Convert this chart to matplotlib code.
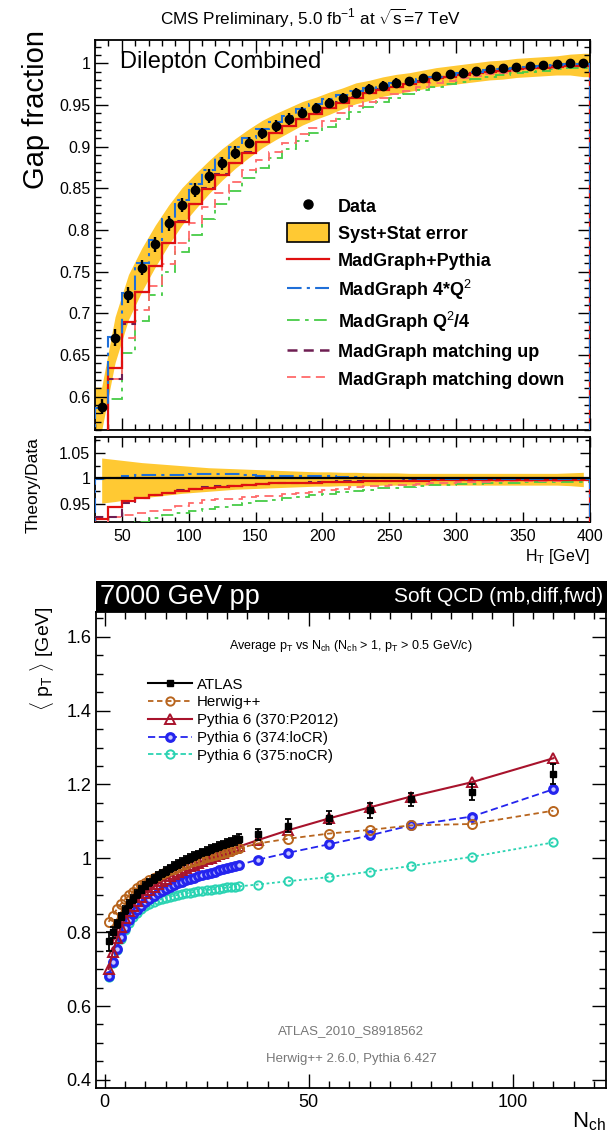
import numpy as np
import matplotlib
matplotlib.use("Agg")
import matplotlib.pyplot as plt
from matplotlib.lines import Line2D
from matplotlib.patches import Patch
from matplotlib.ticker import MultipleLocator, FuncFormatter

plt.rcParams['font.family'] = ['Liberation Sans', 'DejaVu Sans']
plt.rcParams['mathtext.fontset'] = 'custom'
plt.rcParams['mathtext.rm'] = 'Liberation Sans'
plt.rcParams['mathtext.it'] = 'Liberation Sans'
plt.rcParams['mathtext.bf'] = 'Liberation Sans:bold'
plt.rcParams['mathtext.sf'] = 'Liberation Sans'

# ---------------- gap fraction vs H_T ----------------
ht_edges = np.arange(30, 401, 10)
gap_data = [0.588, 0.671, 0.722, 0.755, 0.783, 0.808, 0.830, 0.848, 0.865, 0.880,
            0.893, 0.905, 0.916, 0.925, 0.933, 0.941, 0.947, 0.953, 0.959, 0.965,
            0.969, 0.973, 0.976, 0.979, 0.982, 0.985, 0.987, 0.989, 0.991, 0.993,
            0.994, 0.996, 0.997, 0.998, 0.999, 1.000, 1.000]
gap_err = [0.009, 0.010, 0.010, 0.009, 0.009, 0.009, 0.008, 0.008, 0.008, 0.008,
           0.008, 0.007, 0.007, 0.007, 0.007, 0.007, 0.006, 0.006, 0.006, 0.006,
           0.006, 0.006, 0.006, 0.005, 0.005, 0.005, 0.005, 0.005, 0.005, 0.005,
           0.005, 0.005, 0.005, 0.005, 0.005, 0.005, 0.005]
# relative syst+stat uncertainty (upper / lower)
band_up = [0.040, 0.037, 0.034, 0.031, 0.029, 0.027, 0.025, 0.023, 0.021, 0.020,
           0.019, 0.018, 0.017, 0.016, 0.015, 0.014, 0.013, 0.013, 0.012, 0.012,
           0.011, 0.011, 0.011, 0.010, 0.010, 0.010, 0.010, 0.010, 0.010, 0.010,
           0.010, 0.010, 0.010, 0.010, 0.010, 0.011, 0.012]
band_dn = [0.048, 0.045, 0.041, 0.038, 0.035, 0.032, 0.029, 0.027, 0.025, 0.023,
           0.021, 0.020, 0.019, 0.018, 0.017, 0.016, 0.015, 0.015, 0.014, 0.014,
           0.014, 0.013, 0.013, 0.013, 0.013, 0.013, 0.013, 0.013, 0.013, 0.013,
           0.013, 0.013, 0.013, 0.013, 0.013, 0.014, 0.016]
mg_pythia = [0.542, 0.634, 0.690, 0.726, 0.757, 0.785, 0.810, 0.831, 0.849, 0.866,
             0.880, 0.893, 0.906, 0.916, 0.925, 0.933, 0.939, 0.946, 0.953, 0.959,
             0.964, 0.968, 0.972, 0.975, 0.978, 0.982, 0.984, 0.986, 0.988, 0.990,
             0.991, 0.993, 0.994, 0.995, 0.996, 0.997, 0.997]
mg_4q2 = [0.587, 0.672, 0.725, 0.760, 0.788, 0.813, 0.836, 0.855, 0.872, 0.887,
          0.900, 0.911, 0.921, 0.930, 0.937, 0.945, 0.951, 0.957, 0.962, 0.967,
          0.970, 0.973, 0.976, 0.978, 0.981, 0.984, 0.986, 0.988, 0.990, 0.992,
          0.993, 0.995, 0.996, 0.997, 0.998, 0.999, 0.999]
mg_q2_4 = [0.512, 0.597, 0.653, 0.691, 0.722, 0.750, 0.774, 0.794, 0.813, 0.831,
           0.847, 0.862, 0.875, 0.886, 0.897, 0.907, 0.916, 0.924, 0.933, 0.942,
           0.948, 0.954, 0.958, 0.963, 0.968, 0.972, 0.975, 0.978, 0.981, 0.984,
           0.986, 0.988, 0.990, 0.991, 0.993, 0.994, 0.994]
mg_match_up = [0.544, 0.621, 0.687, 0.726, 0.757, 0.785, 0.811, 0.831, 0.850, 0.867,
               0.880, 0.894, 0.906, 0.916, 0.925, 0.933, 0.940, 0.947, 0.954, 0.960,
               0.965, 0.969, 0.972, 0.976, 0.979, 0.982, 0.984, 0.987, 0.989, 0.991,
               0.992, 0.994, 0.995, 0.996, 0.997, 0.998, 0.998]
mg_match_down = [0.529, 0.621, 0.671, 0.704, 0.733, 0.759, 0.785, 0.808, 0.828, 0.844,
                 0.858, 0.872, 0.884, 0.894, 0.904, 0.915, 0.922, 0.931, 0.940, 0.949,
                 0.954, 0.959, 0.963, 0.967, 0.972, 0.976, 0.979, 0.982, 0.985, 0.987,
                 0.989, 0.991, 0.993, 0.994, 0.995, 0.997, 0.997]

# ---------------- <pT> vs N_ch ----------------
nch = [1, 2, 3, 4, 5, 6, 7, 8, 9, 10, 11, 12, 13, 14, 15, 16, 17, 18, 19, 20,
       21, 22, 23, 24, 25, 26, 27, 28, 29, 30, 31, 32, 33,
       37.5, 45, 55, 65, 75, 90, 110]
atlas_pt = [0.775, 0.800, 0.822, 0.842, 0.860, 0.876, 0.890, 0.903, 0.915, 0.926,
            0.935, 0.944, 0.952, 0.959, 0.966, 0.973, 0.979, 0.985, 0.991, 0.996,
            1.001, 1.006, 1.011, 1.016, 1.020, 1.025, 1.029, 1.033, 1.037, 1.041,
            1.045, 1.049, 1.053,
            1.065, 1.088, 1.110, 1.130, 1.160, 1.180, 1.228]
atlas_err = [0.025, 0.015, 0.012, 0.010, 0.010, 0.010, 0.010, 0.010, 0.010, 0.010,
             0.010, 0.010, 0.010, 0.010, 0.010, 0.010, 0.010, 0.010, 0.010, 0.010,
             0.010, 0.010, 0.010, 0.010, 0.010, 0.010, 0.010, 0.010, 0.010, 0.010,
             0.011, 0.012, 0.012,
             0.015, 0.018, 0.018, 0.020, 0.018, 0.022, 0.028]
herwig_pt = [0.828, 0.845, 0.862, 0.876, 0.889, 0.900, 0.910, 0.919, 0.927, 0.934,
             0.941, 0.947, 0.953, 0.958, 0.963, 0.968, 0.972, 0.977, 0.981, 0.985,
             0.989, 0.992, 0.996, 0.999, 1.003, 1.006, 1.009, 1.012, 1.015, 1.018,
             1.021, 1.024, 1.027,
             1.040, 1.053, 1.067, 1.077, 1.089, 1.093, 1.129]
p370_pt = [0.700, 0.745, 0.783, 0.814, 0.838, 0.857, 0.872, 0.885, 0.896, 0.906,
           0.915, 0.923, 0.931, 0.938, 0.945, 0.951, 0.957, 0.963, 0.968, 0.973,
           0.978, 0.983, 0.988, 0.993, 0.997, 1.002, 1.006, 1.011, 1.015, 1.019,
           1.024, 1.028, 1.032,
           1.049, 1.076, 1.108, 1.138, 1.167, 1.206, 1.271]
p374_pt = [0.680, 0.718, 0.755, 0.788, 0.812, 0.832, 0.848, 0.861, 0.872, 0.882,
           0.890, 0.898, 0.905, 0.911, 0.917, 0.922, 0.927, 0.932, 0.936, 0.940,
           0.944, 0.948, 0.951, 0.954, 0.958, 0.961, 0.964, 0.967, 0.970, 0.973,
           0.976, 0.979, 0.982,
           0.996, 1.015, 1.038, 1.062, 1.089, 1.113, 1.187]
p375_pt = [0.678, 0.716, 0.752, 0.782, 0.806, 0.825, 0.840, 0.852, 0.862, 0.870,
           0.876, 0.882, 0.886, 0.890, 0.893, 0.896, 0.899, 0.901, 0.903, 0.905,
           0.907, 0.909, 0.911, 0.912, 0.914, 0.915, 0.917, 0.918, 0.919, 0.921,
           0.922, 0.923, 0.924,
           0.929, 0.938, 0.949, 0.964, 0.979, 1.004, 1.043]

# ---------------------------------------------------------------
W, H = 607, 1134
fig = plt.figure(figsize=(W / 100, H / 100), dpi=100)


def box(x0, y0, x1, y1):
    """Axes rectangle given in pixel coordinates measured from the top-left."""
    return [x0 / W, 1 - y1 / H, (x1 - x0) / W, (y1 - y0) / H]


def root_ticks(ax, major_len=9, minor_len=4.5, lw=1.0):
    ax.tick_params(which='both', direction='in', top=True, right=True, width=lw)
    ax.tick_params(which='major', length=major_len)
    ax.tick_params(which='minor', length=minor_len)
    for s in ax.spines.values():
        s.set_linewidth(1.3)


gfmt = FuncFormatter(lambda v, p: f"{v:g}")

C_BAND = '#ffc933'
C_RED = '#e01010'
C_BLUE = '#1f6fd8'
C_GREEN = '#46cc46'
C_UP = '#6e1e52'
C_DOWN = '#ff6a6a'

centers = 0.5 * (ht_edges[:-1] + ht_edges[1:])
gd = np.array(gap_data)
lo = gd * (1 - np.array(band_dn))
hi = gd * (1 + np.array(band_up))
xb = np.r_[ht_edges[0], centers, ht_edges[-1]]

# ---- main gap-fraction panel ----
ax1 = fig.add_axes(box(95, 40, 590, 430))
ax1.fill_between(xb, np.r_[lo[0], lo, lo[-1]], np.r_[hi[0], hi, hi[-1]],
                 color=C_BAND, lw=0, zorder=1)
series = [
    (mg_q2_4, C_GREEN, (0, (7, 3, 2, 3)), 1.3),
    (mg_match_down, C_DOWN, (0, (5, 3)), 1.3),
    (mg_match_up, C_UP, (0, (4, 2.5)), 1.5),
    (mg_pythia, C_RED, '-', 1.6),
    (mg_4q2, C_BLUE, (0, (7, 2.5, 1.5, 2.5)), 1.5),
]
for vals, col, ls, lw in series:
    ax1.stairs(vals, ht_edges, color=col, linestyle=ls, lw=lw, zorder=3)
ax1.errorbar(centers, gap_data, yerr=gap_err, fmt='o', color='k', ms=6,
             elinewidth=1.7, capsize=0, zorder=5)
ax1.set_xlim(30, 400)
ax1.set_ylim(0.56, 1.028)
ax1.xaxis.set_major_locator(MultipleLocator(50))
ax1.xaxis.set_minor_locator(MultipleLocator(10))
ax1.yaxis.set_major_locator(MultipleLocator(0.05))
ax1.yaxis.set_minor_locator(MultipleLocator(0.01))
ax1.yaxis.set_major_formatter(gfmt)
ax1.tick_params(labelbottom=False, labelsize=11.5)
root_ticks(ax1)
ax1.text(0.05, 0.944, 'Dilepton Combined', transform=ax1.transAxes,
         fontsize=17, va='center', ha='left')

handles = [
    Line2D([], [], ls='none', marker='o', color='k', ms=6.5),
    Patch(facecolor=C_BAND, edgecolor='k', lw=1.2),
    Line2D([], [], color=C_RED, lw=1.6),
    Line2D([], [], color=C_BLUE, lw=1.5, ls=(0, (7, 2.5, 1.5, 2.5))),
    Line2D([], [], color=C_GREEN, lw=1.3, ls=(0, (7, 3, 2, 3))),
    Line2D([], [], color=C_UP, lw=1.8, ls=(0, (4, 2.5))),
    Line2D([], [], color=C_DOWN, lw=1.3, ls=(0, (5, 3))),
]
labels = ['Data', 'Syst+Stat error', 'MadGraph+Pythia', 'MadGraph 4*Q$^2$',
          'MadGraph Q$^2$/4', 'MadGraph matching up', 'MadGraph matching down']
ax1.legend(handles, labels, loc='upper left', bbox_to_anchor=(0.388, 0.6),
           frameon=False, borderpad=0, borderaxespad=0, handlelength=2.35,
           handleheight=1.25, handletextpad=0.45, labelspacing=0.43,
           prop={'size': 13, 'weight': 'bold'})

fig.text(310 / W, 1 - 18 / H, 'CMS Preliminary, 5.0 fb$^{-1}$ at $\\sqrt{s}$=7 TeV',
         fontsize=12.3, ha='center', va='center')
fig.text(36 / W, 1 - 30 / H, 'Gap fraction', rotation=90, fontsize=21,
         ha='center', va='top')

# ---- ratio panel ----
ax2 = fig.add_axes(box(95, 437, 590, 522))
ax2.fill_between(centers, 1 - np.array(band_dn), 1 + np.array(band_up),
                 color=C_BAND, lw=0, zorder=1)
for vals, col, ls, lw in series:
    ax2.stairs(np.array(vals) / gd, ht_edges, color=col, linestyle=ls, lw=lw, zorder=3)
ax2.axhline(1.0, color='k', lw=1.6, zorder=4)
ax2.set_xlim(30, 400)
ax2.set_ylim(0.915, 1.081)
ax2.xaxis.set_major_locator(MultipleLocator(50))
ax2.xaxis.set_minor_locator(MultipleLocator(10))
ax2.yaxis.set_major_locator(MultipleLocator(0.05))
ax2.yaxis.set_minor_locator(MultipleLocator(0.025))
ax2.yaxis.set_major_formatter(gfmt)
ax2.tick_params(labelsize=11.5)
ax2.tick_params(axis='x', pad=5)
root_ticks(ax2, major_len=7, minor_len=3.5)
ax2.set_xlabel('H$_T$ [GeV]', fontsize=11.5, ha='right', x=1.0, labelpad=2)
fig.text(33 / W, 1 - 437 / H, 'Theory/Data', rotation=90, fontsize=12.5,
         ha='center', va='top')

# ---- <pT> vs Nch panel ----
axb = fig.add_axes(box(96, 581, 607, 612))
axb.set_facecolor('black')
axb.set_xticks([])
axb.set_yticks([])
for s in axb.spines.values():
    s.set_visible(False)
axb.text(0.008, 0.5, '7000 GeV pp', color='white', fontsize=19.5,
         ha='left', va='center', transform=axb.transAxes)
axb.text(0.992, 0.5, 'Soft QCD (mb,diff,fwd)', color='white', fontsize=15,
         ha='right', va='center', transform=axb.transAxes)

ax3 = fig.add_axes(box(96, 612, 606, 1088))
C_HW = '#b8651e'
C_370 = '#a8132c'
C_374 = '#2424ee'
C_375 = '#2ad3b2'
ax3.plot(nch, p375_pt, color=C_375, ls=(0, (1.5, 1.5)), lw=1.3, marker='o', ms=6,
         mfc='none', mec=C_375, mew=1.4, zorder=2)
ax3.plot(nch, p374_pt, color=C_374, ls=(0, (4, 2)), lw=1.3, marker='o', ms=5.5,
         mfc='#c8c8ff', mec=C_374, mew=2.3, zorder=3)
ax3.plot(nch, p370_pt, color=C_370, ls='-', lw=1.5, marker='^', ms=6.5,
         mfc='none', mec=C_370, mew=1.4, zorder=4)
ax3.plot(nch, herwig_pt, color=C_HW, ls=(0, (3, 2)), lw=1.3, marker='o', ms=6.5,
         mfc='none', mec=C_HW, mew=1.4, zorder=5)
ax3.errorbar(nch, atlas_pt, yerr=atlas_err, fmt='s', color='k', ms=5,
             elinewidth=1.3, capsize=2.5, capthick=1.3, zorder=6)
ax3.set_xlim(-2.1, 122.9)
ax3.set_ylim(0.378, 1.667)
ax3.xaxis.set_major_locator(MultipleLocator(50))
ax3.xaxis.set_minor_locator(MultipleLocator(5))
ax3.yaxis.set_major_locator(MultipleLocator(0.2))
ax3.yaxis.set_minor_locator(MultipleLocator(0.05))
ax3.yaxis.set_major_formatter(gfmt)
ax3.tick_params(labelsize=13)
ax3.tick_params(axis='x', pad=4)
root_ticks(ax3, major_len=10, minor_len=5)

leg_handles = [
    Line2D([], [], color='k', lw=1.5, marker='s', ms=5),
    Line2D([], [], color=C_HW, lw=1.3, ls=(0, (3, 2)), marker='o', ms=6, mfc='none', mew=1.4),
    Line2D([], [], color=C_370, lw=1.5, marker='^', ms=6.5, mfc='none', mew=1.4),
    Line2D([], [], color=C_374, lw=1.3, ls=(0, (4, 2)), marker='o', ms=5.5,
           mfc='#c8c8ff', mew=2.3),
    Line2D([], [], color=C_375, lw=1.3, ls=(0, (3, 1.5)), marker='o', ms=6, mfc='none', mew=1.4),
]
leg_labels = ['ATLAS', 'Herwig++', 'Pythia 6 (370:P2012)', 'Pythia 6 (374:loCR)',
              'Pythia 6 (375:noCR)']
ax3.legend(leg_handles, leg_labels, loc='upper left', bbox_to_anchor=(0.102, 0.862),
           frameon=False, borderpad=0, borderaxespad=0, handlelength=2.9,
           handletextpad=0.35, labelspacing=0.25, prop={'size': 10.8})

ax3.text(0.5, 0.928, 'Average p$_T$ vs N$_{ch}$ (N$_{ch}$ > 1, p$_T$ > 0.5 GeV/c)',
         transform=ax3.transAxes, fontsize=9, ha='center', va='center')
ax3.text(0.5, 0.12, 'ATLAS_2010_S8918562', transform=ax3.transAxes,
         fontsize=9.5, color='#777777', ha='center', va='center')
ax3.text(0.5, 0.061, 'Herwig++ 2.6.0, Pythia 6.427', transform=ax3.transAxes,
         fontsize=9.5, color='#777777', ha='center', va='center')
fig.text(42 / W, 1 - 606 / H, '$\\langle$ p$_T$ $\\rangle$ [GeV]', rotation=90,
         fontsize=14, ha='center', va='top')
fig.text(606 / W, 1 - 1122 / H, 'N$_{ch}$', fontsize=16, ha='right', va='center')

fig.savefig('out.png', dpi=100)
